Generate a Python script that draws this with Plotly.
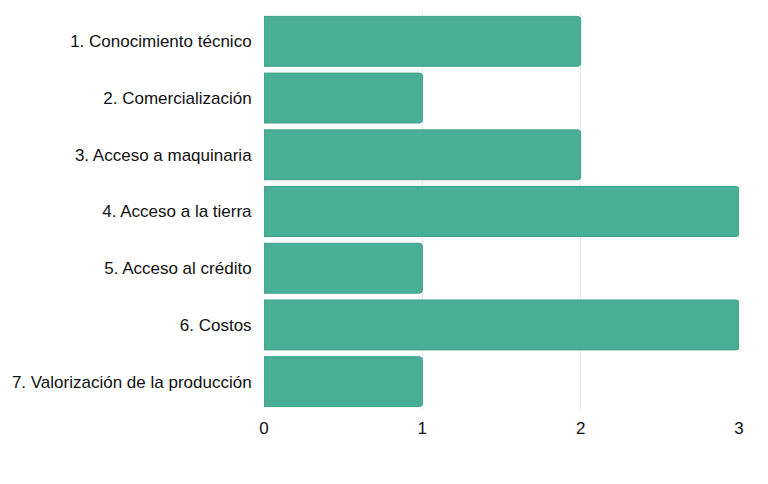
import plotly.graph_objects as go

categorias = [
    "1. Conocimiento técnico",
    "2. Comercialización",
    "3. Acceso a maquinaria",
    "4. Acceso a la tierra",
    "5. Acceso al crédito",
    "6. Costos",
    "7. Valorización de la producción",
]
valores = [2, 1, 2, 3, 1, 3, 1]

fig = go.Figure(go.Bar(
    x=valores,
    y=categorias,
    orientation="h",
    marker=dict(color="#48ae96", line=dict(color="#3fa087", width=1)),
))

fig.update_layout(
    width=760, height=476,
    margin=dict(l=256, r=29, t=5, b=74),
    plot_bgcolor="white", paper_bgcolor="white",
    font=dict(family="Arial, Liberation Sans, sans-serif", size=17, color="#111"),
    bargap=0.12,
    barcornerradius=3,
    showlegend=False,
)
fig.update_xaxes(range=[0, 3], dtick=1, showgrid=True, gridcolor="#e6e6e6",
                 zeroline=False, ticks="outside", ticklen=3, tickcolor="white")
fig.update_yaxes(autorange="reversed", ticks="outside", ticklen=8, tickcolor="white",
                 showgrid=False)

fig.write_html("out.html")
